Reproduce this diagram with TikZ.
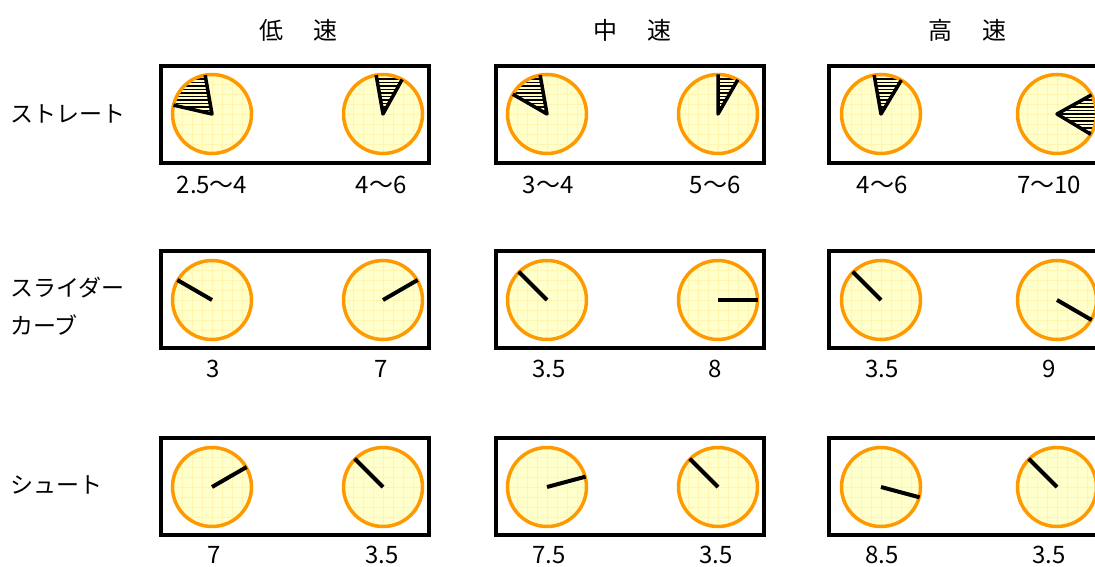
\documentclass[tikz,border=0pt]{standalone}
\usepackage{fontspec}
\setmainfont{Noto Sans CJK JP}
\usepackage{tikz}
\usetikzlibrary{positioning}
\definecolor{dialyellow}{HTML}{FFFFCC}
\definecolor{dialgridyellow}{HTML}{FFF5B0}
\definecolor{rimorange}{HTML}{FF9900}
\tikzset{
  pitchbox/.style={black, line width=3.5pt},
  dialface/.style={fill=dialyellow},
  dialgrid/.style={dialgridyellow, line width=0.5pt},
  dialrim/.style={rimorange, line width=3.5pt},
  hand/.style={black, line width=4pt},
  sectoredge/.style={black, line width=3.5pt, line join=round},
  hatchline/.style={black, line width=1.3pt},
  headtext/.style={font=\fontsize{24}{28}\selectfont},
  pitchtext/.style={font=\fontsize{23}{38}\selectfont, anchor=west, align=left, inner sep=0pt},
  valuetext/.style={font=\fontsize{24}{26}\selectfont}
}

\begin{document}
\begin{tikzpicture}[x=1pt,y=1pt]
  \useasboundingbox (0,0) rectangle (1095,566);
  % speed headings
  \node[headtext] (slow) at (298,536) {低\hspace{30pt}速};
  \node[headtext] (middle) at (632,536) {中\hspace{30pt}速};
  \node[headtext] (fast) at (967,536) {高\hspace{30pt}速};
  % pitch names
  \node[pitchtext] (straight) at (10,452) {ストレート};
  \node[pitchtext] (slider) at (10,260) {スライダー\\カーブ};
  \node[pitchtext] (shoot) at (10,81) {シュート};
  % boxes
  \foreach \bx in {161,496,829}
    \foreach \by in {403,218,31}
      \draw[pitchbox] (\bx,\by) rectangle ++(268,97);
  % dial faces
  \foreach \cx in {212,383,547,718,881,1057}
    \foreach \cy in {452,266,79}
    {
      \begin{scope}[shift={(\cx,\cy)}]
        \clip (0,0) circle (39.5);
        \fill[dialface] (-40,-40) rectangle (40,40);
        \draw[dialgrid, step=10] (-40,-40) grid (40,40);
      \end{scope}
    }
  % hatched ranges of the straight
  \foreach \cx/\cy/\from/\to in {212/452/100/167, 383/452/61/100, 547/452/100/150, 718/452/60/90, 881/452/59/100, 1057/452/-31/29}
  {
    \begin{scope}[shift={(\cx,\cy)}]
      \clip (0,0) -- (\from:39.5) arc (\from:\to:39.5) -- cycle;
      \foreach \h in {-42,-38.5,...,42}
        \draw[hatchline] (-41,\h) -- (41,\h);
    \end{scope}
  }
  % rims
  \foreach \cx in {212,383,547,718,881,1057}
    \foreach \cy in {452,266,79}
      \draw[dialrim] (\cx,\cy) circle (39.5);
  \foreach \cx/\cy/\from/\to in {212/452/100/167, 383/452/61/100, 547/452/100/150, 718/452/60/90, 881/452/59/100, 1057/452/-31/29}
    \draw[sectoredge, shift={(\cx,\cy)}] (\from:39.5) -- (0,0) -- (\to:39.5);
  % hands
  \foreach \cx/\cy/\ang in {212/266/150, 383/266/30, 547/266/135, 718/266/0, 881/266/135, 1057/266/-30, 212/79/30, 383/79/135, 547/79/15, 718/79/135, 881/79/-15, 1057/79/135}
    \draw[hand] (\cx,\cy) -- ++(\ang:40);
  % values
  \foreach \vx/\vy/\txt [count=\i] in {212/381/2.5〜4, 381/381/4〜6, 548/381/3〜4, 715/381/5〜6, 882/381/4〜6, 1049/381/7〜10,
    213/197/3, 381/197/7, 549/197/3.5, 715/197/8, 882/197/3.5, 1049/197/9,
    214/11/7, 382/11/3.5, 549/11/7.5, 716/11/3.5, 882/11/8.5, 1049/11/3.5}
    \node[valuetext] (value\i) at (\vx,\vy) {\txt};
\end{tikzpicture}
\end{document}
